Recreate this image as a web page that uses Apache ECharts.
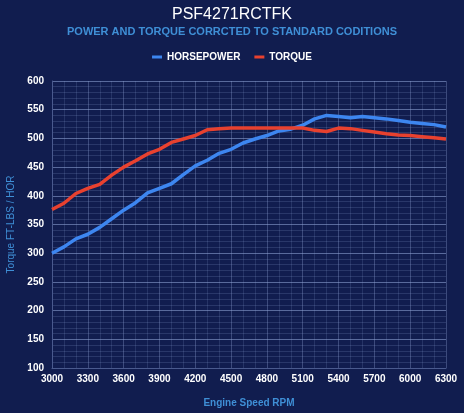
<!DOCTYPE html>
<html>
<head>
<meta charset="utf-8">
<script src="https://cdn.jsdelivr.net/npm/echarts@6/dist/echarts.min.js"></script>
<style>
html,body{margin:0;padding:0;background:#111d4f;}
#c{width:464px;height:413px;}
</style>
</head>
<body>
<div id="c"></div>
<script>
const rpm = [3000,3100,3200,3300,3400,3500,3600,3700,3800,3900,4000,4100,4200,4300,4400,4500,4600,4700,4800,4900,5000,5100,5200,5300,5400,5500,5600,5700,5800,5900,6000,6100,6200,6300];
const horsepower = [300,311,325,333,345,360,375,388,405,413,421,437,452,462,474,481,492,499,505,513,516,523,534,540,538,536,538,536,534,531,528,526,524,520];
const torque = [376,387,404,413,420,436,450,461,473,481,493,499,505,515,517,518,518,518,518,518,518,518,514,512,518,517,514,511,508,506,505,503,501,499];

const chart = echarts.init(document.getElementById('c'));
const font = 'Liberation Sans, Arial, sans-serif';
chart.setOption({
  backgroundColor: '#111d4f',
  animation: false,
  title: [{
    text: 'PSF4271RCTFK',
    left: 'center', top: 2,
    textStyle: {color: '#ffffff', fontSize: 16, fontWeight: 'normal', fontFamily: font}
  }, {
    text: 'POWER AND TORQUE CORRCTED TO STANDARD CODITIONS',
    left: 'center', top: 21,
    textStyle: {color: '#3f8fd6', fontSize: 11, fontWeight: 'bold', fontFamily: font}
  }],
  legend: {
    top: 47, left: 'center', itemWidth: 10, itemHeight: 3, itemGap: 14,
    icon: 'rect',
    textStyle: {color: '#ffffff', fontSize: 10, fontWeight: 'bold', fontFamily: font},
    data: ['HORSEPOWER', 'TORQUE']
  },
  grid: {left: 52, right: 18, top: 81, bottom: 45, containLabel: false, outerBoundsMode: 'none'},
  xAxis: {
    type: 'value', min: 3000, max: 6300, interval: 300,
    name: 'Engine Speed RPM', nameLocation: 'middle', nameGap: 30,
    nameTextStyle: {color: '#3f8fd6', fontSize: 10, fontWeight: 'bold', fontFamily: font},
    axisLine: {show: true, lineStyle: {color: '#4a5a8e'}},
    axisTick: {show: false},
    axisLabel: {color: '#ffffff', fontSize: 10, fontWeight: 'bold', fontFamily: font, margin: 6,
      formatter: v => String(v)},
    splitLine: {show: true, lineStyle: {color: 'rgba(140,160,210,0.35)', width: 1}},
    minorTick: {show: false, splitNumber: 3},
    minorSplitLine: {show: true, lineStyle: {color: 'rgba(140,160,210,0.18)', width: 1}}
  },
  yAxis: {
    type: 'value', min: 100, max: 600, interval: 50,
    name: 'Torque FT-LBS / HOR', nameLocation: 'middle', nameGap: 36,
    nameTextStyle: {color: '#3f8fd6', fontSize: 10, fontFamily: font},
    axisLine: {show: true, lineStyle: {color: '#4a5a8e'}},
    axisTick: {show: false},
    axisLabel: {color: '#ffffff', fontSize: 10, fontWeight: 'bold', fontFamily: font, margin: 8},
    splitLine: {show: true, lineStyle: {color: 'rgba(150,170,220,0.55)', width: 1}},
    minorTick: {show: false, splitNumber: 5},
    minorSplitLine: {show: true, lineStyle: {color: 'rgba(140,160,210,0.2)', width: 1}}
  },
  series: [
    {name: 'HORSEPOWER', type: 'line', showSymbol: false, symbol: 'none',
     data: rpm.map((r, i) => [r, horsepower[i]]),
     itemStyle: {color: '#3d86f0'}, lineStyle: {color: '#3d86f0', width: 3.5}},
    {name: 'TORQUE', type: 'line', showSymbol: false, symbol: 'none',
     data: rpm.map((r, i) => [r, torque[i]]),
     itemStyle: {color: '#e8412f'}, lineStyle: {color: '#e8412f', width: 3.5}}
  ]
});
</script>
</body>
</html>
